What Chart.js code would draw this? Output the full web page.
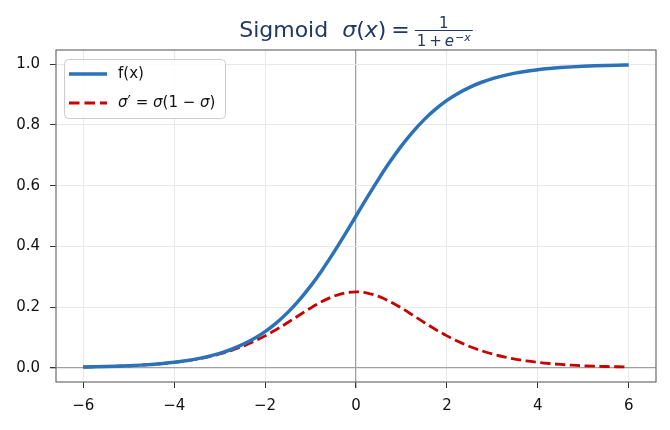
<!DOCTYPE html>
<html>
<head>
<meta charset="utf-8">
<script src="https://cdn.jsdelivr.net/npm/chart.js@4/dist/chart.umd.min.js"></script>
<style>
  html, body { margin: 0; padding: 0; background: #fff; }
  #wrap { width: 670px; height: 430px; }
</style>
</head>
<body>
<div id="wrap"><canvas id="c" width="670" height="430"></canvas></div>
<script>
// values
const xs = [-6, -5.75, -5.5, -5.25, -5, -4.75, -4.5, -4.25, -4, -3.75, -3.5, -3.25, -3, -2.75, -2.5, -2.25, -2, -1.75, -1.5, -1.25, -1, -0.75, -0.5, -0.25,
  0, 0.25, 0.5, 0.75, 1, 1.25, 1.5, 1.75, 2, 2.25, 2.5, 2.75, 3, 3.25, 3.5, 3.75, 4, 4.25, 4.5, 4.75, 5, 5.25, 5.5, 5.75, 6];
const fx = [0.0025, 0.0032, 0.0041, 0.0052, 0.0067, 0.0086, 0.0110, 0.0141, 0.0180, 0.0230, 0.0293, 0.0373, 0.0474, 0.0601, 0.0759, 0.0953, 0.1192, 0.1480, 0.1824, 0.2227, 0.2689, 0.3208, 0.3775, 0.4378,
  0.5000, 0.5622, 0.6225, 0.6792, 0.7311, 0.7773, 0.8176, 0.8520, 0.8808, 0.9047, 0.9241, 0.9399, 0.9526, 0.9627, 0.9707, 0.9770, 0.9820, 0.9859, 0.9890, 0.9914, 0.9933, 0.9948, 0.9959, 0.9968, 0.9975];
const dfx = [0.0025, 0.0032, 0.0041, 0.0052, 0.0066, 0.0085, 0.0109, 0.0139, 0.0177, 0.0225, 0.0285, 0.0359, 0.0452, 0.0565, 0.0701, 0.0863, 0.1050, 0.1261, 0.1491, 0.1731, 0.1966, 0.2179, 0.2350, 0.2461,
  0.2500, 0.2461, 0.2350, 0.2179, 0.1966, 0.1731, 0.1491, 0.1261, 0.1050, 0.0863, 0.0701, 0.0565, 0.0452, 0.0359, 0.0285, 0.0225, 0.0177, 0.0139, 0.0109, 0.0085, 0.0066, 0.0052, 0.0041, 0.0032, 0.0025];
const xTicks = [-6, -4, -2, 0, 2, 4, 6];
const yTicks = [0, 0.2, 0.4, 0.6, 0.8, 1.0];

const BLUE = '#2b72b8';
const RED = '#c80000';
const FONT = '"DejaVu Sans", sans-serif';

// title with the fraction, drawn piece by piece
const titlePlugin = {
  id: 'mathTitle',
  afterDraw(chart) {
    const ctx = chart.ctx;
    const ca = chart.chartArea;
    ctx.save();
    ctx.fillStyle = '#1f3864';
    ctx.strokeStyle = '#1f3864';
    ctx.textBaseline = 'alphabetic';
    const big = '22px ' + FONT, bigI = 'oblique 22px ' + FONT;
    const sm = '15px ' + FONT, smI = 'oblique 15px ' + FONT;
    const tiny = '11px ' + FONT, tinyI = 'oblique 11px ' + FONT;
    const w = (t, f) => { ctx.font = f; return ctx.measureText(t).width; };
    const head = [['Sigmoid  ', big], ['σ', bigI], ['(', big], ['x', bigI], [')', big]];
    const headW = head.reduce((s, p) => s + w(p[0], p[1]), 0);
    const eqGap = 5, eqW = w('=', big);
    const denParts = [['1', sm], ['\u2009+\u2009', sm], ['e', smI]];
    const denW = denParts.reduce((s, p) => s + w(p[0], p[1]), 0) + w('−', tiny) + w('x', tinyI) + 1;
    const fracW = denW + 4;
    const total = headW + eqGap + eqW + eqGap + fracW;
    let x = (ca.left + ca.right) / 2 - total / 2;
    const base = 37;
    head.forEach(p => { ctx.font = p[1]; ctx.fillText(p[0], x, base); x += ctx.measureText(p[0]).width; });
    x += eqGap;
    ctx.font = big; ctx.fillText('=', x, base); x += eqW + eqGap;
    // fraction bar
    const barY = 30.5;
    ctx.lineWidth = 1;
    ctx.beginPath(); ctx.moveTo(x, barY); ctx.lineTo(x + fracW, barY); ctx.stroke();
    ctx.font = sm;
    const nW = ctx.measureText('1').width;
    ctx.fillText('1', x + fracW / 2 - nW / 2, 27.5);
    let dx = x + 2;
    denParts.forEach(p => { ctx.font = p[1]; ctx.fillText(p[0], dx, 46); dx += ctx.measureText(p[0]).width; });
    dx += 1;
    ctx.font = tiny; ctx.fillText('−', dx, 41); dx += ctx.measureText('−').width;
    ctx.font = tinyI; ctx.fillText('x', dx, 41);
    ctx.restore();
  }
};

// frame around the plot area and the legend box
const framePlugin = {
  id: 'frameLegend',
  afterDatasetsDraw(chart) {
    const ctx = chart.ctx;
    const ca = chart.chartArea;
    ctx.save();
    ctx.strokeStyle = '#777';
    ctx.lineWidth = 1.3;
    ctx.strokeRect(ca.left, ca.top, ca.right - ca.left, ca.bottom - ca.top);

    // legend
    const bx = 64.5, by = 59.5, bw = 161, bh = 59;
    ctx.beginPath();
    ctx.roundRect(bx, by, bw, bh, 4);
    ctx.fillStyle = 'rgba(255,255,255,0.8)';
    ctx.fill();
    ctx.strokeStyle = '#cccccc';
    ctx.lineWidth = 1;
    ctx.stroke();

    const rows = [
      { y: 74, color: BLUE, width: 3.5, dash: [] },
      { y: 103, color: RED, width: 2.8, dash: [10.5, 5] }
    ];
    rows.forEach(r => {
      ctx.beginPath();
      ctx.setLineDash(r.dash);
      ctx.strokeStyle = r.color;
      ctx.lineWidth = r.width;
      ctx.moveTo(69, r.y); ctx.lineTo(107, r.y);
      ctx.stroke();
    });
    ctx.setLineDash([]);
    ctx.fillStyle = '#111';
    ctx.textBaseline = 'middle';
    const reg = '15px ' + FONT, ital = 'oblique 15px ' + FONT;
    ctx.font = reg;
    ctx.fillText('f(x)', 118, 74);
    const parts = [['σ', ital], ['′', reg], [' = ', reg], ['σ', ital], ['(1 − ', reg], ['σ', ital], [')', reg]];
    let tx = 118;
    parts.forEach(p => { ctx.font = p[1]; ctx.fillText(p[0], tx, 103); tx += ctx.measureText(p[0]).width; });
    ctx.restore();
  }
};

const gridColor = ctx => (ctx.tick && ctx.tick.value === 0) ? '#a0a0a0' : '#e8e8e8';
const gridWidth = ctx => (ctx.tick && ctx.tick.value === 0) ? 1.3 : 1;

new Chart(document.getElementById('c'), {
  type: 'line',
  data: {
    datasets: [
      {
        label: 'f(x)',
        data: xs.map((x, i) => ({ x: x, y: fx[i] })),
        borderColor: BLUE,
        borderWidth: 3.5,
        pointRadius: 0,
        cubicInterpolationMode: 'monotone',
        fill: false
      },
      {
        label: "σ' = σ(1 − σ)",
        data: xs.map((x, i) => ({ x: x, y: dfx[i] })),
        borderColor: RED,
        borderWidth: 2.8,
        borderDash: [10.3, 4.5],
        pointRadius: 0,
        cubicInterpolationMode: 'monotone',
        fill: false
      }
    ]
  },
  options: {
    responsive: false,
    animation: false,
    devicePixelRatio: 1,
    layout: { padding: { top: 50, right: 14, left: 0, bottom: 0 } },
    plugins: { legend: { display: false }, title: { display: false }, tooltip: { enabled: false } },
    scales: {
      x: {
        type: 'linear', min: -6.6, max: 6.6,
        afterBuildTicks: s => { s.ticks = xTicks.map(v => ({ value: v })); },
        afterFit: s => { s.height = 48; },
        grid: { color: gridColor, lineWidth: gridWidth, tickColor: '#333', tickLength: 6 },
        border: { display: false },
        ticks: {
          color: '#111', padding: 9, maxRotation: 0,
          font: { family: FONT, size: 15 },
          callback: v => (v < 0 ? '−' + Math.abs(v) : String(v))
        }
      },
      y: {
        type: 'linear', min: -0.047, max: 1.047,
        afterBuildTicks: s => { s.ticks = yTicks.map(v => ({ value: v })); },
        afterFit: s => { s.width = 56; },
        grid: { color: gridColor, lineWidth: gridWidth, tickColor: '#333', tickLength: 6 },
        border: { display: false },
        ticks: {
          color: '#111', padding: 10,
          font: { family: FONT, size: 15 },
          callback: v => v.toFixed(1)
        }
      }
    }
  },
  plugins: [titlePlugin, framePlugin]
});
</script>
</body>
</html>
